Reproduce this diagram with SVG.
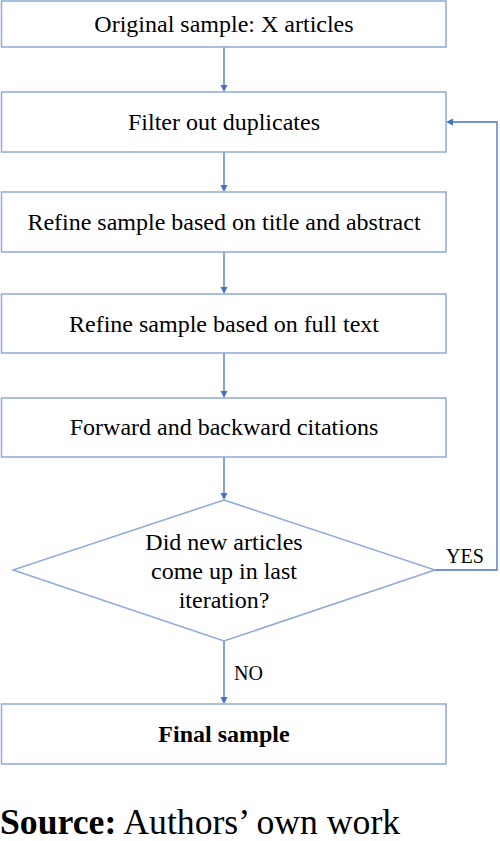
<svg xmlns="http://www.w3.org/2000/svg" width="500" height="841" viewBox="0 0 500 841" font-family="Liberation Serif, serif">
<style>
.box{fill:#fff;stroke:#8EA9DB;stroke-width:1.5}
.t{font-family:'Liberation Serif',serif;font-size:24px;fill:#000;text-anchor:middle}
.lbl{font-family:'Liberation Serif',serif;font-size:20px;fill:#000}
.src{font-family:'Liberation Serif',serif;font-size:35.7px;fill:#000}
.c{fill:none;stroke:#4472C4;stroke-width:1.3}
.ah{fill:#4472C4}
</style>
<rect width="500" height="841" fill="#fff"/>
<g id="connectors">
<line class="c" x1="224" y1="47" x2="224" y2="86"/>
<polygon class="ah" points="220.5,85 227.5,85 224,92"/>
<line class="c" x1="224" y1="152" x2="224" y2="186"/>
<polygon class="ah" points="220.5,185 227.5,185 224,192"/>
<line class="c" x1="224" y1="252" x2="224" y2="288"/>
<polygon class="ah" points="220.5,287 227.5,287 224,294"/>
<line class="c" x1="224" y1="353" x2="224" y2="392"/>
<polygon class="ah" points="220.5,391 227.5,391 224,398"/>
<line class="c" x1="224" y1="457" x2="224" y2="494"/>
<polygon class="ah" points="220.5,493 227.5,493 224,500"/>
<line class="c" x1="224" y1="641" x2="224" y2="698"/>
<polygon class="ah" points="220.5,697 227.5,697 224,704"/>
<polyline class="c" points="435,570 497,570 497,122 452,122"/>
<polygon class="ah" points="453,118.5 453,125.5 446,122"/>
<text class="lbl" x="446" y="563">YES</text>
<text class="lbl" x="234" y="680">NO</text>
</g>
<g id="n1"><rect class="box" x="1.5" y="1" width="444.5" height="46"/><text class="t" x="224" y="32">Original sample: X articles</text></g>
<g id="n2"><rect class="box" x="1.5" y="92" width="444.5" height="60"/><text class="t" x="224" y="130">Filter out duplicates</text></g>
<g id="n3"><rect class="box" x="1.5" y="192" width="444.5" height="60"/><text class="t" x="224" y="230">Refine sample based on title and abstract</text></g>
<g id="n4"><rect class="box" x="1.5" y="294" width="444.5" height="59"/><text class="t" x="224" y="332">Refine sample based on full text</text></g>
<g id="n5"><rect class="box" x="1.5" y="398" width="444.5" height="59"/><text class="t" x="224" y="435">Forward and backward citations</text></g>
<g id="n6"><polygon class="box" points="224,500 435,570 224,641 13,570"/>
<text class="t" x="224" y="550">Did new articles</text>
<text class="t" x="224" y="579">come up in last</text>
<text class="t" x="224" y="608">iteration?</text></g>
<g id="n7"><rect class="box" x="1.5" y="704" width="444.5" height="60"/><text class="t" x="224" y="742" font-weight="bold">Final sample</text></g>
<text class="src" x="0" y="834"><tspan font-weight="bold">Source:</tspan> Authors’ own work</text>
</svg>
